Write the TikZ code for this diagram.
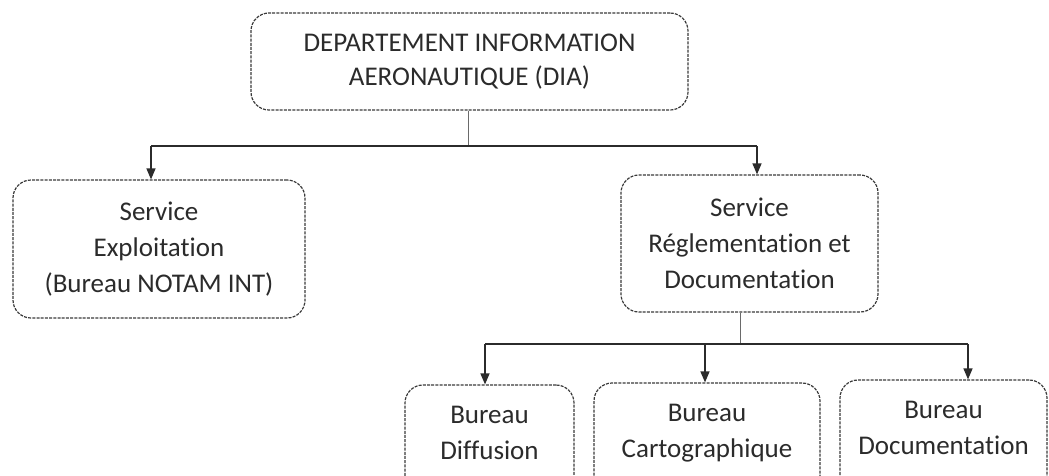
\documentclass[tikz,border=0pt]{standalone}
\usepackage{fontspec}
\setmainfont{Carlito}[Ligatures=NoCommon]
\usetikzlibrary{arrows.meta}
\definecolor{ink}{HTML}{2B2B2B}
\definecolor{edge}{HTML}{3A3A3A}
\definecolor{stem}{HTML}{6A6A6A}
\tikzset{
  unit/.style={draw=edge, line width=1.2pt, dash pattern=on 3pt off 1.2pt,
    rounded corners=18pt, align=center, inner sep=0pt, text=ink,
    font=\fontsize{27}{36}\selectfont},
  bus/.style={draw=ink, line width=1.4pt},
  stemline/.style={draw=stem, line width=0.9pt},
  feed/.style={bus, -{Triangle[length=11pt,width=9pt]}}
}
% two-line label whose box runs on below the text
\newcommand\lowlabel[2]{\begin{tabular}{@{}c@{}}#1\\#2\\[16pt]\end{tabular}}
\begin{document}
\begin{tikzpicture}[x=1pt, y=-1pt]
  \useasboundingbox (0,0) rectangle (1049,475);

  % department head
  \node[unit, minimum width=437, minimum height=97,
        font=\fontsize{27}{34}\selectfont] (dia) at (469.5,61.5)
    {DEPARTEMENT INFORMATION\\AERONAUTIQUE (DIA)};

  % services
  \node[unit, minimum width=292, minimum height=138] (exp) at (159,249)
    {Service\\Exploitation\\(Bureau NOTAM INT)};
  \node[unit, minimum width=257, minimum height=137] (reg) at (749.5,243.5)
    {Service\\Réglementation et\\Documentation};

  % bureaux
  \node[unit, minimum width=169, minimum height=115] (dif) at (489.5,442.5)
    {\lowlabel{Bureau}{Diffusion}};
  \node[unit, minimum width=226, minimum height=115] (car) at (707,440.5)
    {\lowlabel{Bureau}{Cartographique}};
  \node[unit, minimum width=207, minimum height=115] (doc) at (943.5,437.5)
    {\lowlabel{Bureau}{Documentation}};

  % first level of links
  \coordinate (j1) at (468,146);
  \coordinate (xe) at (151,0);
  \coordinate (xr) at (757,0);
  \draw[stemline] (dia.south -| j1) -- (j1);
  \draw[bus] (xe |- j1) -- (xr |- j1);
  \draw[feed] (xe |- j1) -- (xe |- exp.north);
  \draw[feed] (xr |- j1) -- (xr |- reg.north);

  % second level of links
  \coordinate (j2) at (740,344);
  \coordinate (xd) at (485,0);
  \coordinate (xc) at (705,0);
  \coordinate (xo) at (968,0);
  \draw[stemline] (reg.south -| j2) -- (j2);
  \draw[bus] (xd |- j2) -- (xo |- j2);
  \draw[feed] (xd |- j2) -- (xd |- dif.north);
  \draw[feed] (xc |- j2) -- (xc |- car.north);
  \draw[feed] (xo |- j2) -- (xo |- doc.north);
\end{tikzpicture}
\end{document}
